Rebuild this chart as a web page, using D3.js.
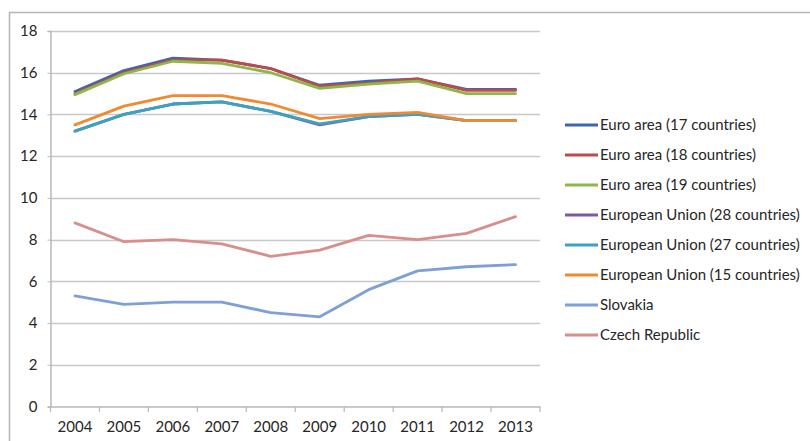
<!DOCTYPE html>
<html><head><meta charset="utf-8">
<script src="https://cdn.jsdelivr.net/npm/d3@7"></script>
<style>body{margin:0;background:#fff}svg{display:block}text{font-family:Lato,"Open Sans",sans-serif}</style>
</head><body><svg id="c" width="810" height="441"></svg>
<script>
const years = ["2004","2005","2006","2007","2008","2009","2010","2011","2012","2013"];
const yTicks = [0,2,4,6,8,10,12,14,16,18];
const seriesNames = ["Euro area (17 countries)","Euro area (18 countries)","Euro area (19 countries)","European Union (28 countries)","European Union (27 countries)","European Union (15 countries)","Slovakia","Czech Republic"];
const ea17 = [15.1,16.1,16.7,16.6,16.2,15.4,15.6,15.7,15.2,15.2];
const ea18 = [15.0,16.0,16.6,16.6,16.2,15.35,15.5,15.7,15.15,15.15];
const ea19 = [14.95,15.95,16.55,16.45,16.0,15.25,15.45,15.6,15.0,15.0];
const eu28 = [13.2,14.0,14.5,14.6,14.15,13.5,13.9,14.0,13.7,13.7];
const eu27 = [13.2,14.0,14.5,14.6,14.15,13.55,13.9,14.0,13.7,13.7];
const eu15 = [13.5,14.4,14.9,14.9,14.5,13.8,14.0,14.1,13.7,13.7];
const slovakia = [5.3,4.9,5.0,5.0,4.5,4.3,5.6,6.5,6.7,6.8];
const czech = [8.8,7.9,8.0,7.8,7.2,7.5,8.2,8.0,8.3,9.1];
const colors = ["#3F66AC","#BE4B48","#8DB748","#7A5BA3","#3AA3C2","#F08A30","#7EA0D6","#D88E8B"];
const allSeries = [ea17,ea18,ea19,eu28,eu27,eu15,slovakia,czech];

const svg = d3.select("#c");
svg.append("path").attr("d","M9.5,441 V12.5 H810").attr("fill","none").attr("stroke","#b3b3b3").attr("stroke-width",1.5);

const x = d3.scaleBand().domain(years).range([50.5,540]);
const y = d3.scaleLinear().domain([0,18]).range([406.5,31]);

svg.append("g").selectAll("line").data(yTicks.filter(d=>d>0)).join("line")
  .attr("x1",50.5).attr("x2",540).attr("y1",d=>Math.round(y(d))+0.5).attr("y2",d=>Math.round(y(d))+0.5)
  .attr("stroke","#c8c8c8").attr("stroke-width",1.5);

const ya = svg.append("g").attr("transform","translate(50.5,0)")
  .call(d3.axisLeft(y).tickValues(yTicks).tickSize(3).tickPadding(10).tickFormat(d3.format("d")));
ya.select(".domain").attr("stroke","#b8b8b8").attr("stroke-width",1.5);
ya.selectAll(".tick line").attr("stroke","#b8b8b8");
ya.selectAll("text").attr("font-size",15).attr("fill","#262626").attr("font-family","Lato");

const xa = svg.append("g").attr("transform","translate(0,406.5)")
  .call(d3.axisBottom(x).tickSize(0).tickPadding(15));
xa.select(".domain").attr("stroke","#b8b8b8").attr("stroke-width",1.5);
xa.selectAll("text").attr("font-size",15).attr("fill","#262626").attr("font-family","Lato");
svg.append("g").selectAll("line").data(years.concat(["end"])).join("line")
  .attr("x1",(d,i)=>i<years.length?x(d):x.range()[1]).attr("x2",(d,i)=>i<years.length?x(d):x.range()[1])
  .attr("y1",406.5).attr("y2",412).attr("stroke","#b8b8b8").attr("stroke-width",1.2);

const line = d3.line().x((d,i)=>x(years[i])+x.bandwidth()/2).y(d=>y(d));
svg.append("g").selectAll("path").data(allSeries).join("path")
  .attr("d",line).attr("fill","none").attr("stroke",(d,i)=>colors[i])
  .attr("stroke-width",2.8).attr("stroke-linejoin","round").attr("stroke-linecap","round");

const lg = svg.append("g").selectAll("g").data(seriesNames).join("g")
  .attr("transform",(d,i)=>`translate(565,${125+i*30})`);
lg.append("line").attr("x1",0).attr("x2",33).attr("y1",0).attr("y2",0)
  .attr("stroke",(d,i)=>colors[i]).attr("stroke-width",2.8);
lg.append("text").attr("x",35).attr("y",0).attr("dy","0.35em")
  .attr("font-size",15).attr("fill","#262626").text(d=>d);
</script></body></html>
